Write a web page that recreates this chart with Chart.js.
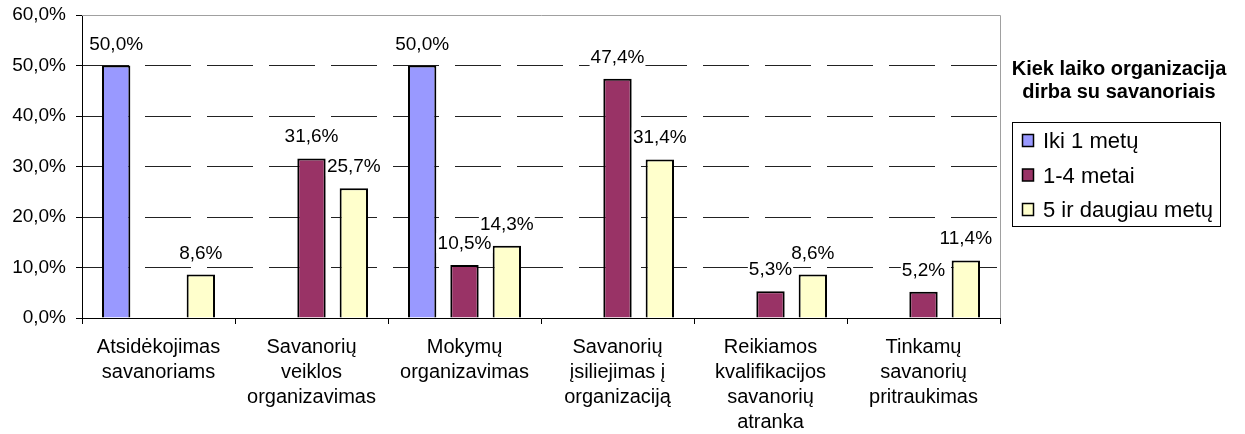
<!DOCTYPE html>
<html>
<head>
<meta charset="utf-8">
<script src="https://cdn.jsdelivr.net/npm/chart.js@4"></script>
<style>
  html, body { margin: 0; padding: 0; background: #fff; }
</style>
</head>
<body>
<canvas id="chart" width="1245" height="434"></canvas>
<script>
const categories = [
  ['Atsidėkojimas', 'savanoriams'],
  ['Savanorių', 'veiklos', 'organizavimas'],
  ['Mokymų', 'organizavimas'],
  ['Savanorių', 'įsiliejimas į', 'organizaciją'],
  ['Reikiamos', 'kvalifikacijos', 'savanorių', 'atranka'],
  ['Tinkamų', 'savanorių', 'pritraukimas']
];
const seriesNames = ['Iki 1 metų', '1-4 metai', '5 ir daugiau metų'];
const ikiVieneriu = [50.0, null, 50.0, null, null, null];
const vienasKeturi = [null, 31.6, 10.5, 47.4, 5.3, 5.2];
const penkiIrDaugiau = [8.6, 25.7, 14.3, 31.4, 8.6, 11.4];
const legendTitle = ['Kiek laiko organizacija', 'dirba su savanoriais'];
const yTicks = [0, 10, 20, 30, 40, 50, 60];

const FONT = '"Liberation Sans", Arial, sans-serif';
const colors = ['#9999FF', '#993366', '#FFFFCC'];

function fmt(v) {
  return v.toFixed(1).replace('.', ',') + '%';
}

// value labels above bars, with white background like in Excel
const valueLabels = {
  id: 'valueLabels',
  afterDatasetsDraw(chart) {
    const ctx = chart.ctx;
    ctx.save();
    ctx.font = '19px ' + FONT;
    ctx.textAlign = 'center';
    ctx.textBaseline = 'alphabetic';
    chart.data.datasets.forEach((ds, i) => {
      const meta = chart.getDatasetMeta(i);
      meta.data.forEach((bar, j) => {
        const v = ds.data[j];
        if (v == null) return;
        const txt = fmt(v);
        const w = ctx.measureText(txt).width;
        const base = bar.y - 16;
        ctx.fillStyle = '#fff';
        ctx.fillRect(bar.x - w / 2 - 1, base - 16, w + 2, 20);
        ctx.fillStyle = '#000';
        ctx.fillText(txt, bar.x, base);
      });
    });
    ctx.restore();
  }
};

// plot frame (top/right gray) and boxed legend on the right
const frameAndLegend = {
  id: 'frameAndLegend',
  beforeDatasetsDraw(chart) {
    const a = chart.chartArea;
    const ctx = chart.ctx;
    ctx.save();
    ctx.strokeStyle = '#a0a0a0';
    ctx.lineWidth = 1;
    ctx.beginPath();
    ctx.moveTo(a.left, Math.round(a.top) + 0.5);
    ctx.lineTo(Math.round(a.right) + 0.5, Math.round(a.top) + 0.5);
    ctx.lineTo(Math.round(a.right) + 0.5, a.bottom);
    ctx.stroke();
    ctx.restore();
  },
  afterDraw(chart) {
    const ctx = chart.ctx;
    ctx.save();
    ctx.fillStyle = '#000';
    ctx.textAlign = 'center';
    ctx.textBaseline = 'middle';
    ctx.font = 'bold 20px ' + FONT;
    ctx.fillText(legendTitle[0], 1119, 69);
    ctx.fillText(legendTitle[1], 1119, 92);

    ctx.strokeStyle = '#000';
    ctx.lineWidth = 1;
    ctx.strokeRect(1012.5, 122.5, 208, 104);

    ctx.textAlign = 'left';
    ctx.font = '22px ' + FONT;
    chart.data.datasets.forEach((ds, i) => {
      const cy = 141 + i * 34.5;
      ctx.fillStyle = ds.backgroundColor;
      ctx.fillRect(1022.5, cy - 6.5, 11, 12);
      ctx.lineWidth = 1.5;
      ctx.strokeRect(1022.5, cy - 6.5, 11, 12);
      ctx.fillStyle = '#000';
      ctx.fillText(ds.label, 1043, cy + 1);
    });
    ctx.restore();
  }
};

new Chart(document.getElementById('chart'), {
  type: 'bar',
  data: {
    labels: categories,
    datasets: [
      { label: seriesNames[0], data: ikiVieneriu, backgroundColor: colors[0] },
      { label: seriesNames[1], data: vienasKeturi, backgroundColor: colors[1] },
      { label: seriesNames[2], data: penkiIrDaugiau, backgroundColor: colors[2] }
    ].map(d => Object.assign(d, {
      borderColor: '#000',
      borderWidth: 2,
      borderSkipped: 'bottom',
      categoryPercentage: 0.83,
      barPercentage: 0.67
    }))
  },
  options: {
    responsive: false,
    animation: false,
    devicePixelRatio: 1,
    layout: { padding: { top: 0, right: 245, left: 0, bottom: 0 } },
    plugins: {
      legend: { display: false },
      tooltip: { enabled: false }
    },
    scales: {
      x: {
        afterFit(scale) { scale.height = 116; },
        grid: {
          offset: true,
          drawOnChartArea: false,
          drawTicks: true,
          tickLength: 6,
          tickColor: '#000'
        },
        border: { color: '#000', width: 1 },
        ticks: {
          color: '#000',
          font: { family: FONT, size: 20, lineHeight: '25px' },
          maxRotation: 0,
          autoSkip: false,
          padding: 11
        }
      },
      y: {
        min: 0,
        max: 60,
        afterBuildTicks(scale) {
          scale.ticks = yTicks.map(v => ({ value: v }));
        },
        afterFit(scale) {
          scale.width = 82;
          scale.paddingTop = 15;
        },
        grid: {
          color: ctx => (ctx.tick && (ctx.tick.value === 0 || ctx.tick.value === 60)) ? 'rgba(0,0,0,0)' : '#222',
          tickColor: '#000',
          tickLength: 6,
          lineWidth: 1
        },
        border: { color: '#000', width: 1, dash: [46, 16] },
        ticks: {
          color: '#000',
          font: { family: FONT, size: 19 },
          padding: 10,
          callback: v => fmt(v)
        }
      }
    }
  },
  plugins: [frameAndLegend, valueLabels]
});
</script>
</body>
</html>
